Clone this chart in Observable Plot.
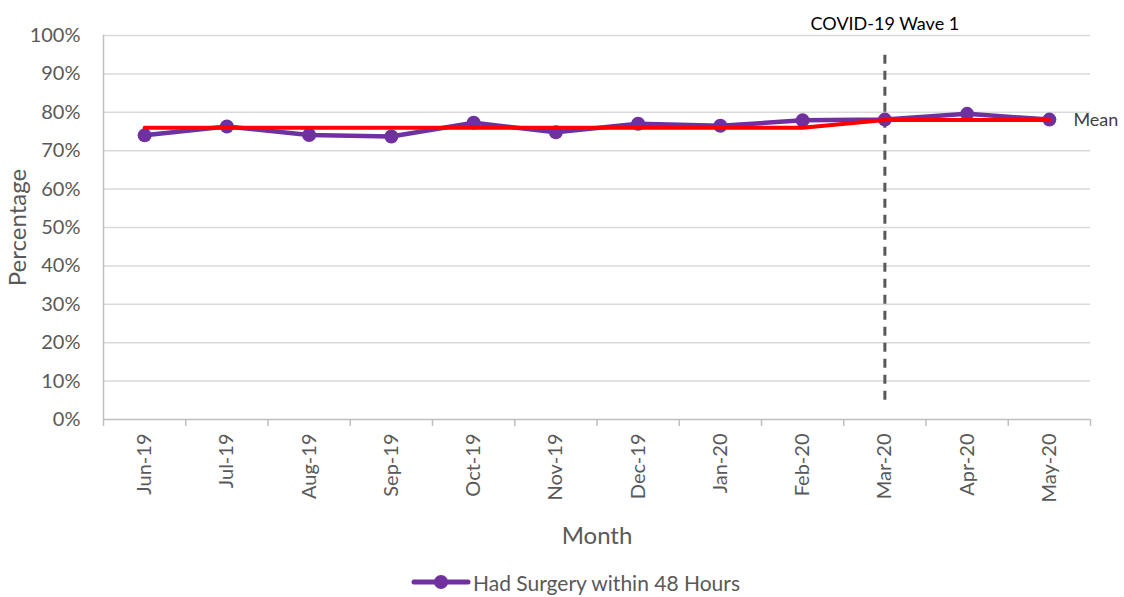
<!DOCTYPE html>
<html>
<head>
<meta charset="utf-8">
<script src="https://cdn.jsdelivr.net/npm/d3@7"></script>
<script src="https://cdn.jsdelivr.net/npm/@observablehq/plot@0.6"></script>
<style>
  body { margin: 0; background: #fff; font-family: Lato, "Open Sans", sans-serif; }
  #chart { width: 1124px; }
  .legend { display: flex; align-items: center; padding-left: 411px; height: 44px; color: #595959; font-size: 21px; }
  .legend svg { margin-right: 2px; }
</style>
</head>
<body>
<div id="chart"></div>
<script>
const months = ["Jun-19","Jul-19","Aug-19","Sep-19","Oct-19","Nov-19","Dec-19","Jan-20","Feb-20","Mar-20","Apr-20","May-20"];
const surgery48 = [74.0, 76.3, 74.1, 73.7, 77.3, 74.8, 77.0, 76.5, 77.9, 78.1, 79.6, 78.1];
const meanValues = [76.0, 76.0, 76.0, 76.0, 76.0, 76.0, 76.0, 76.0, 76.0, 78.0, 78.0, 78.0];
const yTicks = [0, 10, 20, 30, 40, 50, 60, 70, 80, 90, 100];
const waveMonth = "Mar-20";
const waveLabel = "COVID-19 Wave 1";
const waveSpan = [5, 95];
const seriesName = "Had Surgery within 48 Hours";

const data = months.map((m, i) => ({i, month: m, value: surgery48[i], mean: meanValues[i]}));
const waveIdx = months.indexOf(waveMonth);
const boundaries = d3.range(months.length + 1).map(k => k - 0.5);

const purple = "#7030A0";
const red = "#FF0000";
const grey = "#595959";

const plot = Plot.plot({
  width: 1124,
  height: 560,
  marginLeft: 103,
  marginRight: 34,
  marginTop: 35,
  marginBottom: 141,
  style: {fontFamily: "Lato, 'Open Sans', sans-serif", fontSize: "20px", color: grey, background: "#fff"},
  x: {type: "linear", domain: [-0.5, months.length - 0.5]},
  y: {domain: [0, 100]},
  marks: [
    Plot.gridY(yTicks.filter(t => t > 0), {stroke: "#d9d9d9", strokeOpacity: 1, strokeWidth: 1.5}),
    Plot.ruleX([-0.5], {y1: 0, y2: 100, stroke: "#bfbfbf", strokeWidth: 1.5}),
    Plot.ruleY([0], {stroke: "#bfbfbf", strokeWidth: 1.5}),
    Plot.axisY({ticks: yTicks, tickFormat: d => d + "%", tickSize: 0, tickPadding: 23, fontSize: 20, color: grey, label: null}),
    Plot.axisY({ticks: [], label: "Percentage", labelAnchor: "center", labelArrow: "none", labelOffset: 95, fontSize: 24, color: grey}),
    Plot.axisX({ticks: boundaries, tickFormat: () => "", tickSize: 7, stroke: "#bfbfbf", strokeWidth: 1.5, label: null}),
    Plot.axisX({ticks: d3.range(months.length), tickFormat: k => months[k], tickSize: 0, tickPadding: 14, tickRotate: -90,
      fontSize: 20, color: grey, label: null}),
    Plot.axisX({ticks: [], label: "Month", labelAnchor: "center", labelArrow: "none", labelOffset: 124, fontSize: 24, color: grey}),
    Plot.ruleX([waveIdx], {y1: waveSpan[0], y2: waveSpan[1], stroke: grey, strokeWidth: 3, strokeDasharray: "9,7"}),
    Plot.text([waveLabel], {x: waveIdx, y: 100, text: d => d, dy: -11, fill: "#000", fontSize: 18, textAnchor: "middle"}),
    Plot.line(data, {x: "i", y: "value", stroke: purple, strokeWidth: 4.5}),
    Plot.dot(data, {x: "i", y: "value", r: 7, fill: purple, stroke: null}),
    Plot.line(data, {x: "i", y: "mean", stroke: red, strokeWidth: 4}),
    Plot.text([data[data.length - 1]], {x: "i", y: "mean", text: () => "Mean", dx: 24, textAnchor: "start", fill: "#404040", fontSize: 18})
  ]
});
document.getElementById("chart").appendChild(plot);

const legend = document.createElement("div");
legend.className = "legend";
legend.innerHTML = `<svg width="60" height="20"><line x1="3" y1="10" x2="57" y2="10" stroke="${purple}" stroke-width="5" stroke-linecap="round"/><circle cx="30" cy="10" r="7" fill="${purple}"/></svg><span>${seriesName}</span>`;
document.getElementById("chart").appendChild(legend);
</script>
</body>
</html>
